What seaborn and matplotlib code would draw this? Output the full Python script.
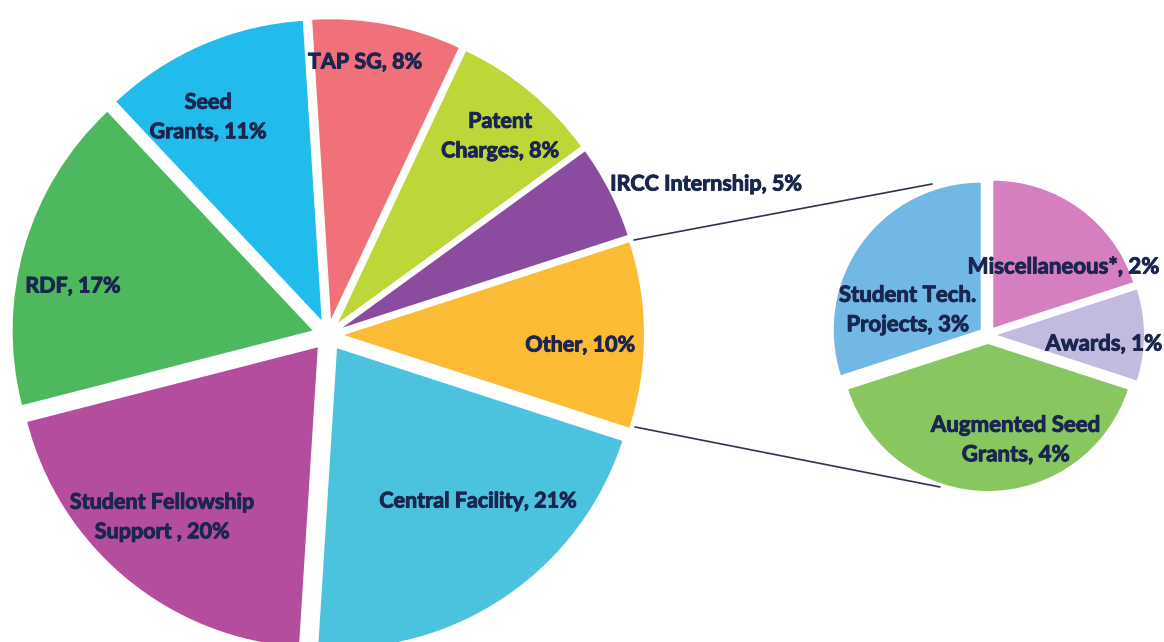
import matplotlib
matplotlib.use("Agg")
import matplotlib.pyplot as plt
import matplotlib.patheffects as pe
import seaborn as sns

# data
main_labels = ["Other, 10%", "IRCC Internship, 5%", "Patent\nCharges, 8%", "TAP SG, 8%",
               "Seed\nGrants, 11%", "RDF, 17%", "Student Fellowship\nSupport , 20%",
               "Central Facility, 21%"]
main_values = [10, 5, 8, 8, 11, 17, 20, 21]
main_colors = ["#FBBB35", "#8B4B9F", "#BDD638", "#F0717A", "#22BCEC", "#4DB85E",
               "#B54D9E", "#4BC2DE"]

sub_labels = ["Student Tech.\nProjects, 3%", "Augmented Seed\nGrants, 4%", "Awards, 1%",
              "Miscellaneous*, 2%"]
sub_values = [3, 4, 1, 2]
sub_colors = ["#72B8E6", "#88C660", "#C3BAE0", "#D57FC0"]

# label centres in picture pixels (x from left, y from top)
main_label_pos = [(580, 345), (706, 184), (500, 136), (365, 62), (208, 117), (73, 286),
                  (162, 517), (478, 501)]
sub_label_pos = [(908, 310), (1016, 440), (1104, 344), (1064, 267)]

W, H = 1164, 642
TEXT = "#1A2650"


def px(x, y):
    return x, H - y


sns.set_theme(style="white")
plt.rcParams["font.family"] = ["Lato", "DejaVu Sans"]

fig = plt.figure(figsize=(11.64, 6.42), dpi=100)
ax = fig.add_axes([0, 0, 1, 1])

ax.pie(main_values, colors=main_colors, startangle=-18, counterclock=True,
       center=px(328, 335), radius=300, explode=[16] * len(main_values),
       wedgeprops=dict(linewidth=0))
ax.pie(sub_values, colors=sub_colors, startangle=90, counterclock=True,
       center=px(988, 335), radius=147, explode=[9] * len(sub_values),
       wedgeprops=dict(linewidth=0))

# connector lines between the "Other" slice and the breakdown pie
for (x0, y0), (x1, y1) in [((634, 240), (932, 184)), ((635, 427), (940, 487))]:
    ax.plot(*zip(px(x0, y0), px(x1, y1)), color="#33334F", lw=1.2)

# thin stroke to get closer to the heavy look of the original labels
heavy = [pe.withStroke(linewidth=0.7, foreground=TEXT)]
for lab, (x, y) in zip(main_labels, main_label_pos):
    ax.text(*px(x, y), lab, ha="center", va="center", fontsize=15.5,
            fontweight="bold", color=TEXT, linespacing=1.5, path_effects=heavy)
for lab, (x, y) in zip(sub_labels, sub_label_pos):
    ax.text(*px(x, y), lab, ha="center", va="center", fontsize=16,
            fontweight="bold", color=TEXT, linespacing=1.5, path_effects=heavy)

ax.set_xlim(0, W)
ax.set_ylim(0, H)
ax.set_aspect("equal")
ax.axis("off")

fig.savefig("out.png", dpi=100, facecolor="white")
